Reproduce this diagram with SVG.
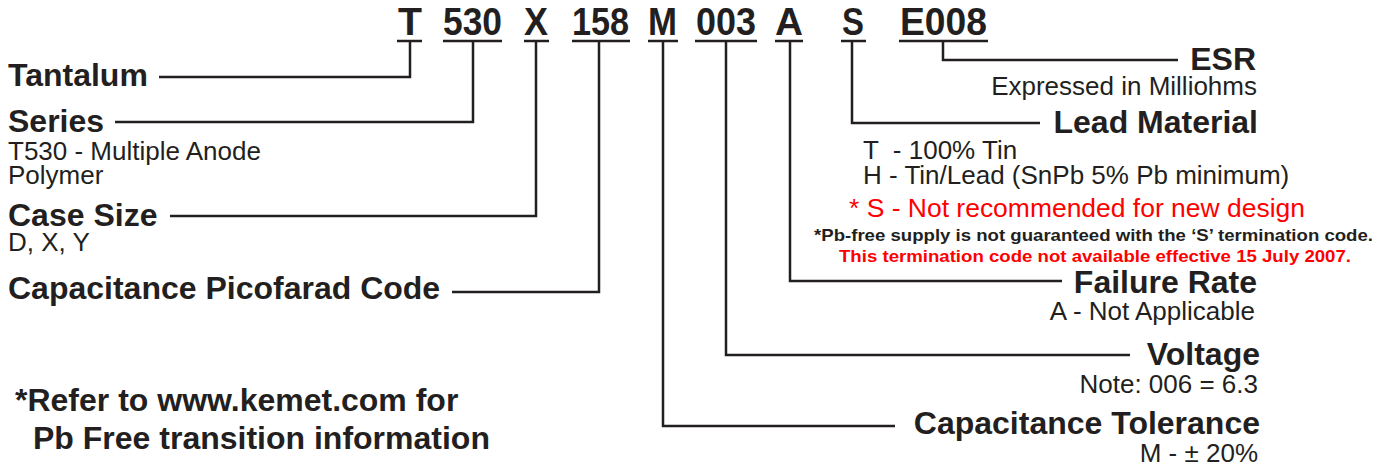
<svg xmlns="http://www.w3.org/2000/svg" width="1393" height="470" viewBox="0 0 1393 470">
<style>
text{font-family:"Liberation Sans",Arial,Helvetica,sans-serif;fill:#231f20}
.code{font-size:38px;font-weight:bold}
.lab{font-size:32px;font-weight:bold}
.desc{font-size:26px}
.r{text-anchor:end}
.red{fill:#f00}
.small{font-size:17px;font-weight:bold}
.ln{fill:none;stroke:#231f20;stroke-width:2.5}
</style>
<rect width="1393" height="470" fill="#fff"/>
<g id="code">
<g id="code-T"><text class="code" x="398" y="35" textLength="24" lengthAdjust="spacingAndGlyphs">T</text><line class="ln" x1="397" y1="41" x2="422" y2="41"/></g>
<g id="code-530"><text class="code" x="443" y="35" textLength="59" lengthAdjust="spacingAndGlyphs">530</text><line class="ln" x1="443" y1="41" x2="502" y2="41"/></g>
<g id="code-X"><text class="code" x="524" y="35" textLength="24" lengthAdjust="spacingAndGlyphs">X</text><line class="ln" x1="524" y1="41" x2="549" y2="41"/></g>
<g id="code-158"><text class="code" x="572" y="35" textLength="57" lengthAdjust="spacingAndGlyphs">158</text><line class="ln" x1="572" y1="41" x2="630" y2="41"/></g>
<g id="code-M"><text class="code" x="648" y="35" textLength="29" lengthAdjust="spacingAndGlyphs">M</text><line class="ln" x1="648" y1="41" x2="678" y2="41"/></g>
<g id="code-003"><text class="code" x="696" y="35" textLength="60" lengthAdjust="spacingAndGlyphs">003</text><line class="ln" x1="695" y1="41" x2="757" y2="41"/></g>
<g id="code-A"><text class="code" x="775" y="35" textLength="28" lengthAdjust="spacingAndGlyphs">A</text><line class="ln" x1="775" y1="41" x2="803" y2="41"/></g>
<g id="code-S"><text class="code" x="842" y="35" textLength="22" lengthAdjust="spacingAndGlyphs">S</text><line class="ln" x1="841" y1="41" x2="866" y2="41"/></g>
<g id="code-E008"><text class="code" x="900" y="35" textLength="87" lengthAdjust="spacingAndGlyphs">E008</text><line class="ln" x1="899" y1="41" x2="988" y2="41"/></g>
</g>
<g id="connectors">
<polyline class="ln" points="410,41 410,77 159,77"/>
<polyline class="ln" points="473,41 473,122 115,122"/>
<polyline class="ln" points="536,41 536,216 170,216"/>
<polyline class="ln" points="599,41 599,292 452,292"/>
<polyline class="ln" points="663,41 663,426 895,426"/>
<polyline class="ln" points="726,41 726,355 1130,355"/>
<polyline class="ln" points="790,41 790,281 1062,281"/>
<polyline class="ln" points="852,41 852,123 1040,123"/>
<polyline class="ln" points="943,41 943,60 1178,60"/>
</g>
<g id="tantalum"><text class="lab" x="8" y="86">Tantalum</text></g>
<g id="series"><text class="lab" x="8" y="132">Series</text><text class="desc" x="8" y="160">T530 - Multiple Anode</text><text class="desc" x="8" y="184">Polymer</text></g>
<g id="case-size"><text class="lab" x="8" y="226">Case Size</text><text class="desc" x="8" y="251">D, X, Y</text></g>
<g id="cap-code"><text class="lab" x="8" y="299">Capacitance Picofarad Code</text></g>
<g id="note-left"><text class="lab" x="15" y="411">*Refer to www.kemet.com for</text><text class="lab" x="33" y="449">Pb Free transition information</text></g>
<g id="esr"><text class="lab r" x="1256" y="70">ESR</text><text class="desc r" x="1257" y="95">Expressed in Milliohms</text></g>
<g id="lead-material"><text class="lab r" x="1258" y="133">Lead Material</text>
<text class="desc" x="863" y="159" xml:space="preserve">T  - 100% Tin</text>
<text class="desc" x="863" y="184">H - Tin/Lead (SnPb 5% Pb minimum)</text>
<text class="desc red" x="849" y="217" textLength="456" lengthAdjust="spacingAndGlyphs">* S - Not recommended for new design</text>
<text class="small" x="814" y="241" textLength="559" lengthAdjust="spacingAndGlyphs">*Pb-free supply is not guaranteed with the ‘S’ termination code.</text>
<text class="small red" x="839" y="262" textLength="512" lengthAdjust="spacingAndGlyphs">This termination code not available effective 15 July 2007.</text></g>
<g id="failure-rate"><text class="lab r" x="1257" y="293">Failure Rate</text><text class="desc r" x="1255" y="320">A - Not Applicable</text></g>
<g id="voltage"><text class="lab r" x="1260" y="365">Voltage</text><text class="desc r" x="1258" y="393">Note: 006 = 6.3</text></g>
<g id="cap-tolerance"><text class="lab r" x="1260" y="434">Capacitance Tolerance</text><text class="desc r" x="1258" y="462">M - ± 20%</text></g>
</svg>
